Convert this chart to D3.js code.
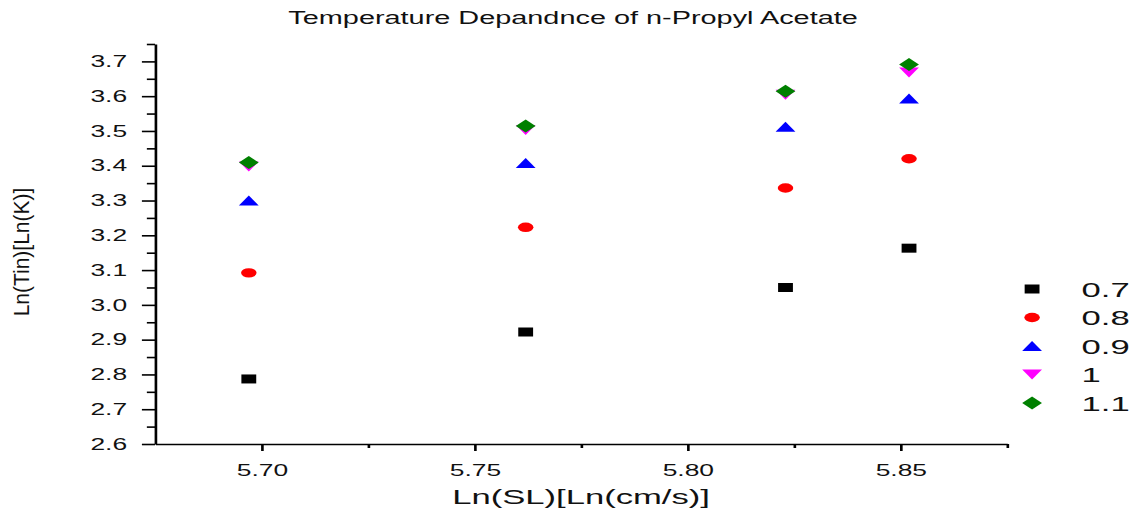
<!DOCTYPE html>
<html>
<head>
<meta charset="utf-8">
<script src="https://cdn.jsdelivr.net/npm/d3@7"></script>
<style>
  html, body { margin: 0; padding: 0; background: #fff; }
  svg { display: block; font-family: "Liberation Sans", Arial, sans-serif; }
</style>
</head>
<body>
<svg id="chart"></svg>
<script>
// data
var xVals = [5.697, 5.762, 5.823, 5.852];
var seriesNames = ["0.7", "0.8", "0.9", "1", "1.1"];
var y07 = [2.787, 2.922, 3.050, 3.163];
var y08 = [3.092, 3.223, 3.336, 3.420];
var y09 = [3.300, 3.408, 3.512, 3.593];
var y10 = [3.398, 3.503, 3.604, 3.668];
var y11 = [3.409, 3.514, 3.614, 3.691];
var yMajor = [2.6, 2.7, 2.8, 2.9, 3.0, 3.1, 3.2, 3.3, 3.4, 3.5, 3.6, 3.7];
var yMinor = [2.65, 2.75, 2.85, 2.95, 3.05, 3.15, 3.25, 3.35, 3.45, 3.55, 3.65, 3.75];
var xMajor = [5.70, 5.75, 5.80, 5.85];
var xMinor = [5.725, 5.775, 5.825, 5.875];

// the original image is squeezed wide, so draw in a narrow box and stretch it
var W = 1141, H = 521, stretch = 1.65;
var vw = W / stretch;

var svg = d3.select("#chart")
    .attr("width", W).attr("height", H)
    .attr("viewBox", "0 0 " + vw + " " + H)
    .attr("preserveAspectRatio", "none");

var plotL = 94, plotR = 610.3, plotT = 44, plotB = 444;

var x = d3.scaleLinear().domain([5.675, 5.875]).range([plotL, plotR]);
var y = d3.scaleLinear().domain([2.6, 3.75]).range([plotB, plotT]);

// symbols centred on their box
var sq = { draw: function(c) { c.rect(-4.5, -4.5, 9, 9); } };
var circ = { draw: function(c) { c.moveTo(4.7, 0); c.arc(0, 0, 4.7, 0, 2 * Math.PI); } };
var triUp = { draw: function(c) { c.moveTo(0, -5); c.lineTo(6, 5); c.lineTo(-6, 5); c.closePath(); } };
var triDown = { draw: function(c) { c.moveTo(0, 5); c.lineTo(6, -5); c.lineTo(-6, -5); c.closePath(); } };
var diam = { draw: function(c) { c.moveTo(0, -6.5); c.lineTo(6, 0); c.lineTo(0, 6.5); c.lineTo(-6, 0); c.closePath(); } };

var series = [
  { name: seriesNames[0], vals: y07, color: "#000000", shape: sq },
  { name: seriesNames[1], vals: y08, color: "#ff0000", shape: circ },
  { name: seriesNames[2], vals: y09, color: "#0000ff", shape: triUp },
  { name: seriesNames[3], vals: y10, color: "#ff00ff", shape: triDown },
  { name: seriesNames[4], vals: y11, color: "#008000", shape: diam }
];

// axes
var gy = svg.append("g").attr("transform", "translate(" + plotL + ",0)");
gy.call(d3.axisLeft(y).tickValues(yMajor).tickSize(8).tickPadding(9).tickSizeOuter(0)
    .tickFormat(d3.format(".1f")));
gy.append("g").call(d3.axisLeft(y).tickValues(yMinor).tickSize(5).tickFormat("").tickSizeOuter(0))
  .select(".domain").remove();

var gx = svg.append("g").attr("transform", "translate(0," + plotB + ")");
gx.call(d3.axisBottom(x).tickValues(xMajor).tickSize(7).tickPadding(14).tickSizeOuter(0)
    .tickFormat(d3.format(".2f")));
gx.append("g").call(d3.axisBottom(x).tickValues(xMinor).tickSize(4).tickFormat("").tickSizeOuter(0))
  .select(".domain").remove();

svg.selectAll(".domain, .tick line").attr("stroke", "#000").attr("stroke-width", 1.6);
svg.selectAll(".tick text").attr("font-size", 16).attr("fill", "#111")
   .attr("font-family", "'Liberation Sans', Arial, sans-serif");

// points
series.forEach(function(s) {
  svg.append("g").selectAll("path")
    .data(s.vals)
    .join("path")
    .attr("d", d3.symbol().type(s.shape))
    .attr("transform", function(d, i) { return "translate(" + x(xVals[i]) + "," + y(d) + ")"; })
    .attr("fill", s.color);
});

// legend
var leg = svg.append("g").attr("transform", "translate(625.5,289)");
series.forEach(function(s, i) {
  var row = leg.append("g").attr("transform", "translate(0," + (i * 28.5) + ")");
  row.append("path").attr("d", d3.symbol().type(s.shape)).attr("fill", s.color);
  row.append("text").attr("x", 30).attr("y", 7.5).attr("font-size", 21).attr("fill", "#111").text(s.name);
});

// titles
svg.append("text").attr("x", 347.3).attr("y", 24).attr("text-anchor", "middle")
   .attr("font-size", 17.5).attr("fill", "#111")
   .text("Temperature Depandnce of n-Propyl Acetate");

svg.append("text").attr("x", (plotL + plotR) / 2).attr("y", 504).attr("text-anchor", "middle")
   .attr("font-size", 21).attr("fill", "#111")
   .text("Ln(SL)[Ln(cm/s)]");

svg.append("text").attr("transform", "translate(17.6,252) scale(0.65,1) rotate(-90)")
   .attr("text-anchor", "middle").attr("font-size", 21).attr("fill", "#111")
   .text("Ln(Tin)[Ln(K)]");
</script>
</body>
</html>
